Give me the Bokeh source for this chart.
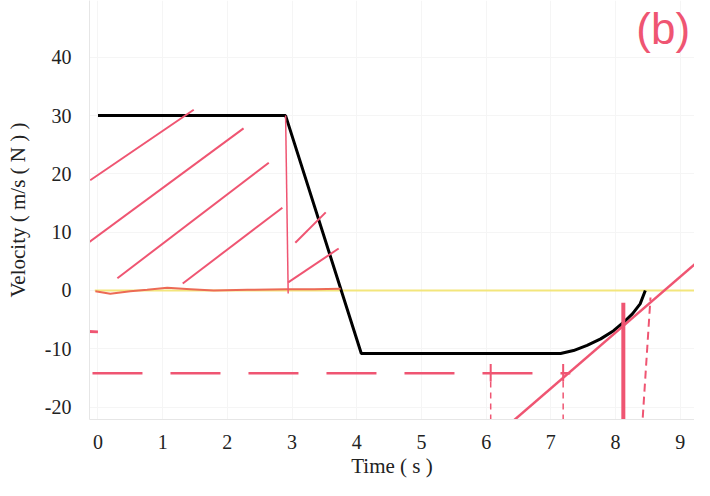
from bokeh.plotting import figure
from bokeh.models import Range1d, FixedTicker, PrintfTickFormatter
from bokeh.embed import file_html
from bokeh.resources import INLINE
from bokeh.core.properties import value

# ---- printed chart data ----
x_ticks = [0, 1, 2, 3, 4, 5, 6, 7, 8, 9]
y_ticks = [-20, -10, 0, 10, 20, 30, 40]

time_vel = [0, 2.9, 4.07, 7.15, 7.35, 7.56, 7.77, 7.97, 8.13, 8.26, 8.38, 8.46]
velocity = [30, 30, -10.8, -10.8, -10.3, -9.4, -8.3, -6.9, -5.4, -4.0, -2.3, 0]

zero_t = [-0.05, 9.4]
zero_v = [0, 0]

# ---- handwritten annotations (pink ink) ----
hatch_t0 = [-0.12, -0.27, 0.30, 1.31, 3.05, 2.94]
hatch_v0 = [18.9, 7.2, 2.1, 1.2, 8.2, 1.4]
hatch_t1 = [1.48, 2.25, 2.64, 2.85, 3.52, 3.72]
hatch_v1 = [31.0, 27.8, 21.9, 14.2, 13.4, 7.2]

ink_zero_t = [-0.04, 0.19, 0.50, 0.76, 1.07, 1.43, 1.79, 2.31, 2.92, 3.34, 3.75]
ink_zero_v = [-0.12, -0.57, -0.12, 0.11, 0.46, 0.23, 0.0, 0.11, 0.23, 0.23, 0.29]

drop_t = [2.90, 2.94]
drop_v = [30, -0.5]

tangent_t = [6.30, 9.47]
tangent_v = [-23.5, 6.86]

dash_h_t = [-0.085, 7.30]
dash_h_v = [-14.2, -14.2]

cross_t = [6.07, 7.19]
cross_top = [-12.6, -12.6]
cross_mid = [-15.6, -15.6]
cross_bot = [-22.8, -23.5]

thick_t = [8.12, 8.12]
thick_v = [-2.1, -23.3]

dash_v_t = [8.42, 8.54]
dash_v_v = [-21.8, -1.2]

mark_t = [-0.3, 0.0]
mark_v = [-7.0, -7.1]

note_t = [8.32]
note_v = [45.0]
note_text = ["(b)"]

PINK = "#ef5572"
SERIF = "Liberation Serif"

p = figure(width=694, height=480, output_backend="svg", toolbar_location=None,
           x_range=Range1d(-0.131, 9.22), y_range=Range1d(-22.13, 49.74),
           min_border_left=89, min_border_right=0, min_border_top=0,
           min_border_bottom=61, background_fill_color="white",
           border_fill_color="white", outline_line_color=None)

p.xaxis.ticker = FixedTicker(ticks=x_ticks)
p.yaxis.ticker = FixedTicker(ticks=y_ticks)
p.xaxis.formatter = PrintfTickFormatter(format="%d")
p.yaxis.formatter = PrintfTickFormatter(format="%d")
p.xaxis.axis_label = "Time ( s )"
p.yaxis.axis_label = "Velocity ( m/s ( N ) )"
for ax in (p.xaxis, p.yaxis):
    ax.axis_line_color = "#e6e6e6"
    ax.major_tick_line_color = None
    ax.minor_tick_line_color = None
    ax.major_label_text_font = SERIF
    ax.major_label_text_font_size = "20px"
    ax.major_label_text_color = "#222222"
    ax.axis_label_text_font = SERIF
    ax.axis_label_text_font_size = "21px"
    ax.axis_label_text_font_style = "normal"
    ax.axis_label_text_color = "#222222"
p.xaxis.major_label_standoff = 9
p.xaxis.axis_label_standoff = 2
p.yaxis.major_label_standoff = 12
p.yaxis.axis_label_standoff = 12
p.xgrid.grid_line_color = "#f5f5f5"
p.ygrid.grid_line_color = "#f5f5f5"

# printed lines
p.line(zero_t, zero_v, line_color="#f3e67c", line_width=2)
p.line(time_vel, velocity, line_color="black", line_width=3)

# handwriting
p.segment(hatch_t0, hatch_v0, hatch_t1, hatch_v1, line_color=PINK, line_width=2)
p.line(ink_zero_t, ink_zero_v, line_color="#ec6a55", line_width=2)
p.line(drop_t, drop_v, line_color=PINK, line_width=1.5)
p.line(tangent_t, tangent_v, line_color=PINK, line_width=2.5)
p.line(dash_h_t, dash_h_v, line_color=PINK, line_width=2.5, line_dash="50 28")
p.segment(cross_t, cross_top, cross_t, cross_mid, line_color=PINK, line_width=2)
p.segment(cross_t, cross_mid, cross_t, cross_bot, line_color=PINK, line_width=1.5,
          line_dash="6 5")
p.line(thick_t, thick_v, line_color=PINK, line_width=4)
p.line(dash_v_t, dash_v_v, line_color=PINK, line_width=2, line_dash="8 5")
p.line(mark_t, mark_v, line_color=PINK, line_width=3)
p.text(note_t, note_v, text=note_text, text_color=PINK,
       text_font=value("Liberation Sans"), text_font_size="44px",
       text_baseline="middle", text_align="left")

open("out.html", "w").write(file_html(p, INLINE))
